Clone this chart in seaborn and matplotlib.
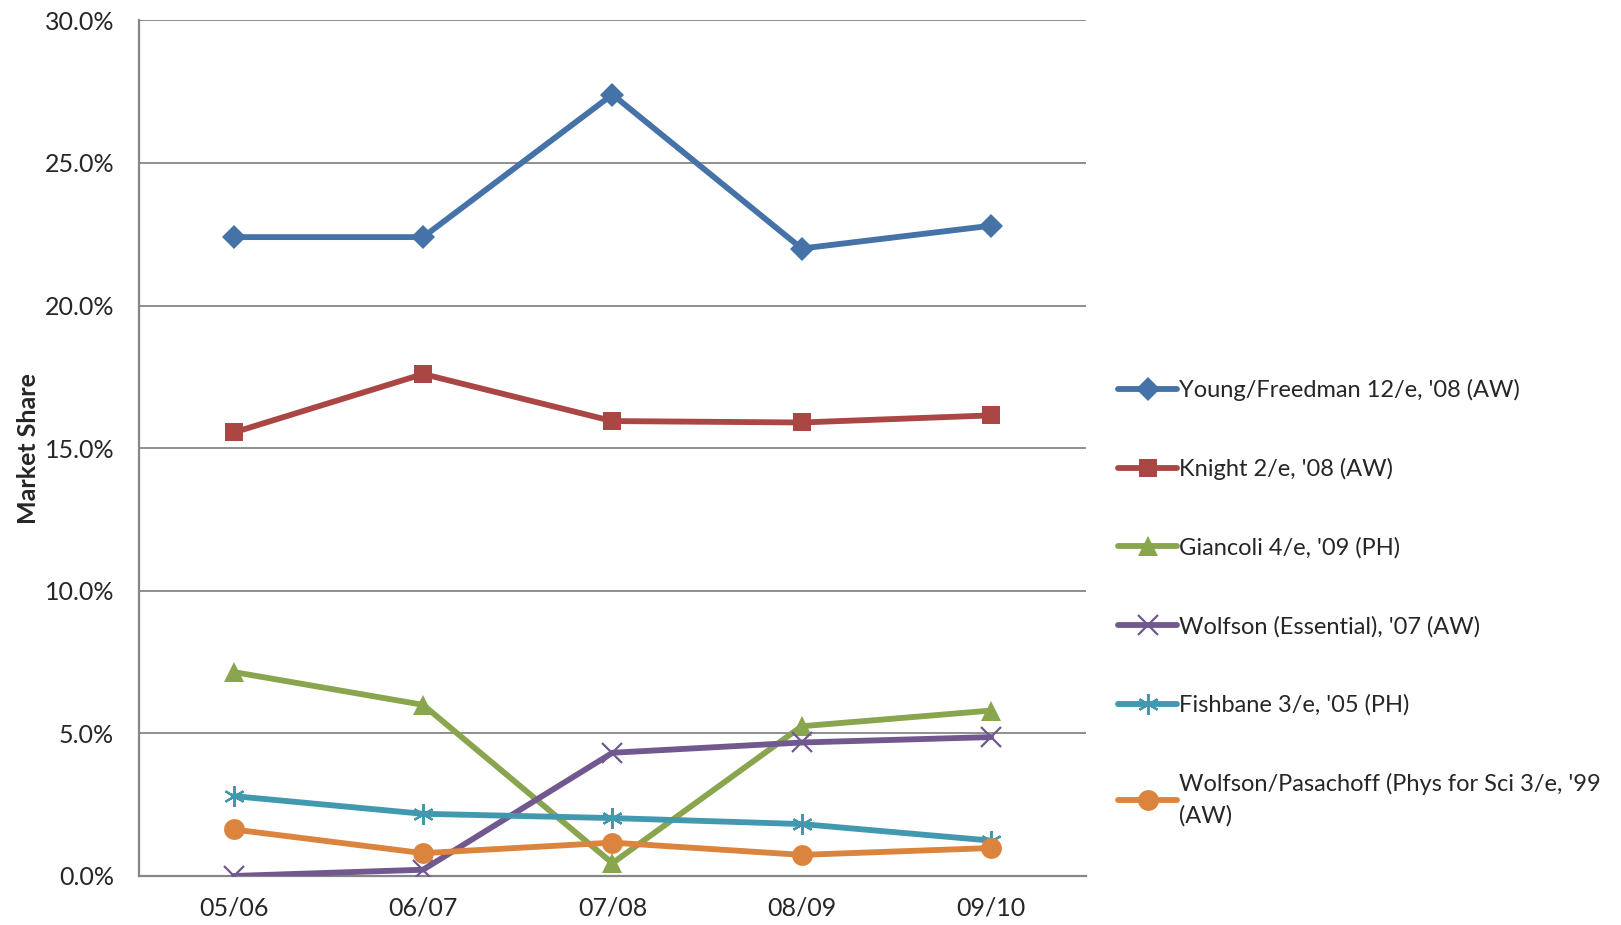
import pandas as pd
import matplotlib.pyplot as plt
import matplotlib.ticker as mtick
import seaborn as sns

years = ["05/06", "06/07", "07/08", "08/09", "09/10"]
series_names = [
    "Young/Freedman 12/e, '08 (AW)",
    "Knight 2/e, '08 (AW)",
    "Giancoli 4/e, '09 (PH)",
    "Wolfson (Essential), '07 (AW)",
    "Fishbane 3/e, '05 (PH)",
    "Wolfson/Pasachoff (Phys for Sci 3/e, '99\n(AW)",
]
young = [22.4, 22.4, 27.4, 22.0, 22.8]
knight = [15.55, 17.6, 15.95, 15.9, 16.15]
giancoli = [7.15, 6.0, 0.45, 5.25, 5.8]
wolfson = [0.0, 0.22, 4.32, 4.68, 4.87]
fishbane = [2.8, 2.18, 2.03, 1.82, 1.24]
pasachoff = [1.63, 0.8, 1.17, 0.74, 0.98]

colors = ["#4572A7", "#AA4643", "#89A54E", "#71588F", "#4198AF", "#DB843D"]
markers = ["D", "s", "^", "x", (6, 2, 0), "o"]
sizes = [12, 13, 14, 14, 15, 15]

rows = []
for name, vals in zip(series_names, [young, knight, giancoli, wolfson, fishbane, pasachoff]):
    for i, (yr, v) in enumerate(zip(years, vals)):
        rows.append({"idx": i, "year": yr, "share": v, "series": name})
df = pd.DataFrame(rows)

sns.set_style("white")
plt.rcParams["font.family"] = ["Lato", "DejaVu Sans"]

fig = plt.figure(figsize=(16.21, 9.25), dpi=100)
ax = fig.add_axes([0.0858, 0.053, 0.584, 0.925])

for name, c, m, s in zip(series_names, colors, markers, sizes):
    sub = df[df["series"] == name]
    sns.lineplot(data=sub, x="idx", y="share", ax=ax, color=c, marker=m,
                 markersize=s, markeredgewidth=1.6 if m in ("x", (6, 2, 0)) else 0,
                 markeredgecolor=c, linewidth=4.2, label=name, zorder=3)

ax.set_xlim(-0.5, 4.5)
ax.set_ylim(0, 30)
ax.set_xticks(range(len(years)))
ax.set_xticklabels(years, fontsize=18)
ax.set_yticks([0, 5, 10, 15, 20, 25, 30])
ax.yaxis.set_major_formatter(mtick.FuncFormatter(lambda v, p: f"{v:.1f}%"))
ax.tick_params(axis="y", labelsize=18, length=0, pad=18)
ax.tick_params(axis="x", length=0, pad=15)
ax.grid(axis="y", color="#868686", linewidth=1.3)
ax.set_axisbelow(True)
for sp in ["top", "right"]:
    ax.spines[sp].set_visible(False)
for sp in ["left", "bottom"]:
    ax.spines[sp].set_color("#868686")
    ax.spines[sp].set_linewidth(1.6)
ax.set_xlabel("")
ax.set_ylabel("Market Share", fontsize=18, fontweight="bold")
ax.yaxis.set_label_coords(-0.105, 0.5)

leg = ax.legend(loc="upper left", bbox_to_anchor=(1.012, 0.606), frameon=False,
                fontsize=17, handlelength=2.5, handletextpad=0.05, labelspacing=2.42)
for t in leg.get_texts():
    t.set_linespacing(1.55)

fig.savefig("out.png", dpi=100)
